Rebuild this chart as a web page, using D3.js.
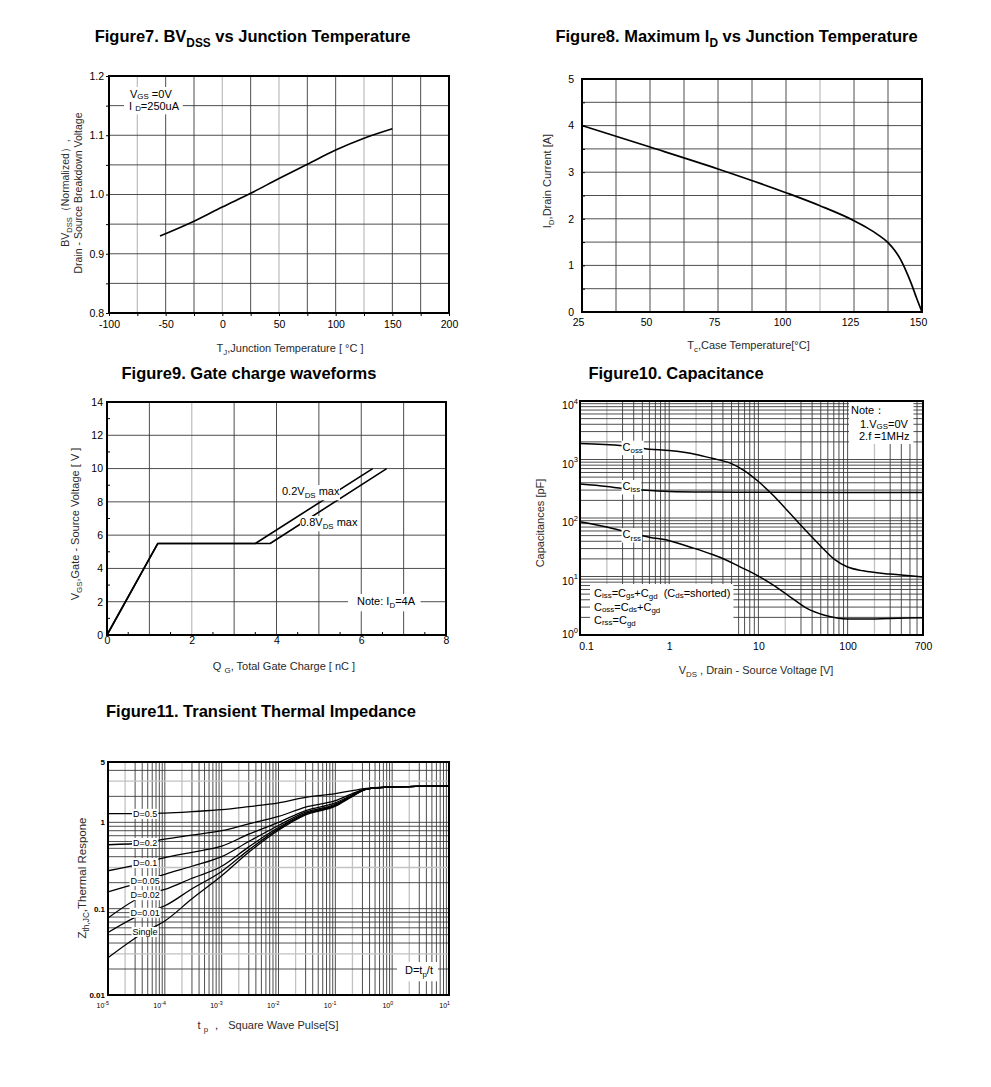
<!DOCTYPE html>
<html>
<head>
<meta charset="utf-8">
<script src="https://cdn.jsdelivr.net/npm/d3@7/dist/d3.min.js"></script>
<style>
html,body{margin:0;padding:0;background:#fff;}
svg{display:block;}
</style>
</head>
<body>
<svg id="chart" width="991" height="1087"></svg>
<script>
// ---------------- Figure 7 : BVdss vs Tj ----------------
const bvTemp = [-55, -25, 0, 25, 50, 75, 100, 125, 150];
const bvNorm = [0.930, 0.955, 0.979, 1.002, 1.027, 1.051, 1.075, 1.095, 1.111];
const bvXTicks = [-100, -50, 0, 50, 100, 150, 200];
const bvYTicks = [0.8, 0.9, 1.0, 1.1, 1.2];

// ---------------- Figure 8 : Id vs Tc ----------------
const idTemp = [25, 50, 75, 100, 112.5, 125, 130, 134, 137.5, 140, 142, 144, 146, 148, 150];
const idCurrent = [4.0, 3.54, 3.07, 2.56, 2.28, 1.96, 1.80, 1.65, 1.49, 1.32, 1.14, 0.90, 0.62, 0.30, 0];
const idXTicks = [25, 50, 75, 100, 125, 150];
const idYTicks = [0, 1, 2, 3, 4, 5];

// ---------------- Figure 9 : gate charge ----------------
const qg02 = [0, 1.2, 3.5, 6.27];
const vgs02 = [0, 5.5, 5.5, 10];
const qg08 = [0, 1.2, 3.85, 6.6];
const vgs08 = [0, 5.5, 5.5, 10];
const qgXTicks = [0, 2, 4, 6, 8];
const qgYTicks = [0, 2, 4, 6, 8, 10, 12, 14];

// ---------------- Figure 10 : capacitance ----------------
const cossVds = [0.1, 0.3, 0.6, 1, 2, 3, 5, 7, 10, 15, 22, 35, 50, 70, 100, 150, 300, 700];
const cossPf  = [1870, 1720, 1500, 1420, 1220, 1050, 850, 640, 420, 235, 125, 58, 33, 20, 14.5, 12.5, 11, 9.8];
const cissVds = [0.1, 0.2, 0.3, 0.5, 1, 3, 10, 100, 700];
const cissPf  = [380, 345, 320, 300, 283, 277, 275, 272, 272];
const crssVds = [0.1, 0.2, 0.3, 0.6, 1, 1.7, 3, 4.4, 6, 8.8, 14.7, 22.6, 35, 54, 76, 100, 150, 300, 700];
const crssPf  = [86, 70, 60, 47, 41, 32, 24, 19, 15, 11.3, 7.1, 4.5, 2.85, 2.2, 1.95, 1.88, 1.88, 1.92, 1.97];
const capXTicks = [0.1, 1, 10, 100, 700];
const capYTicks = [1, 10, 100, 1000, 10000];
const capYExp = ['0', '1', '2', '3', '4'];
const capLabelX = 0.3;
const capLabelY = [1656, 352, 53];
const capLabelSub = ['oss', 'iss', 'rss'];

// ---------------- Figure 11 : transient thermal impedance ----------------
const zthTp = [1e-5, 4.5e-5, 1e-4, 3e-4, 1e-3, 3e-3, 1e-2, 3e-2, 1e-1, 2e-1, 3.5e-1, 1, 10];
const zthD05  = [1.26, 1.26, 1.28, 1.33, 1.40, 1.52, 1.68, 1.95, 2.15, 2.33, 2.47, 2.57, 2.65];
const zthD02  = [0.55, 0.58, 0.64, 0.71, 0.80, 0.96, 1.17, 1.50, 1.78, 2.15, 2.44, 2.57, 2.65];
const zthD01  = [0.275, 0.34, 0.39, 0.45, 0.53, 0.73, 1.00, 1.37, 1.68, 2.08, 2.43, 2.57, 2.65];
const zthD005 = [0.157, 0.21, 0.25, 0.31, 0.40, 0.60, 0.92, 1.31, 1.62, 2.05, 2.42, 2.57, 2.65];
const zthD002 = [0.078, 0.144, 0.167, 0.225, 0.31, 0.52, 0.87, 1.27, 1.58, 2.03, 2.42, 2.57, 2.65];
const zthD001 = [0.053, 0.090, 0.108, 0.17, 0.27, 0.48, 0.84, 1.25, 1.56, 2.02, 2.41, 2.57, 2.65];
const zthSingle = [0.027, 0.054, 0.072, 0.13, 0.24, 0.45, 0.81, 1.22, 1.54, 2.00, 2.41, 2.57, 2.65];
const zthNames = ['D=0.5', 'D=0.2', 'D=0.1', 'D=0.05', 'D=0.02', 'D=0.01', 'Single'];
const zthXTicks = [1e-5, 1e-4, 1e-3, 1e-2, 1e-1, 1, 10];
const zthXExp = ['-5', '-4', '-3', '-2', '-1', '0', '1'];
const zthYTicks = [0.01, 0.1, 1, 5];
const zthYLabels = ['0.01', '0.1', '1', '5'];

// =====================================================================
const svg = d3.select('#chart');
const FONT = '"Liberation Sans", Arial, Helvetica, sans-serif';
const DARK = '#3a3a3a', LIGHT = '#c2c2c2';
const near = (arr, d) => arr.some(v => Math.abs(v - d) < 1e-9 * Math.max(1, Math.abs(v)));

function rich(parent, x, y, parts, o = {}) {
  const size = o.size || 11;
  const t = parent.append('text')
    .attr('font-family', FONT).attr('font-size', size)
    .attr('font-weight', o.weight || 'normal')
    .attr('fill', o.fill || '#000')
    .attr('text-anchor', o.anchor || 'start')
    .style('white-space', 'pre');
  if (o.rotate) t.attr('transform', `translate(${x},${y}) rotate(-90)`);
  else t.attr('x', x).attr('y', y);
  let cur = 0;
  parts.forEach(p => {
    const s = typeof p === 'string' ? p : p[0];
    const k = typeof p === 'string' ? 'n' : p[1];
    const fs = k === 'n' ? size : size * (o.small || 0.72);
    let off = 0;
    if (k === 'sub') off = size * (o.subOff || 0.3);
    else if (k === 'lo') off = size * 0.12;
    else if (k === 'sup') off = -size * (o.supOff || 0.45);
    t.append('tspan').attr('font-size', fs).attr('dy', off - cur).text(s);
    cur = off;
  });
  return t;
}

function backBox(parent, sels, pad) {
  const p = typeof pad === 'number' ? [pad, pad, pad, pad] : pad; // t r b l
  let x0 = Infinity, y0 = Infinity, x1 = -Infinity, y1 = -Infinity;
  sels.forEach(s => {
    const b = s.node().getBBox();
    x0 = Math.min(x0, b.x); y0 = Math.min(y0, b.y);
    x1 = Math.max(x1, b.x + b.width); y1 = Math.max(y1, b.y + b.height);
  });
  parent.insert('rect', () => sels[0].node())
    .attr('x', x0 - p[3]).attr('y', y0 - p[0])
    .attr('width', x1 - x0 + p[1] + p[3]).attr('height', y1 - y0 + p[0] + p[2])
    .attr('fill', '#fff');
}

function grid(g, x, y, xs, ys, lightX = () => false, lightY = () => false) {
  const [xl, xr] = x.range(), [yb, yt] = y.range();
  g.append('g').selectAll('line').data(xs).join('line')
    .attr('x1', d => x(d)).attr('x2', d => x(d)).attr('y1', yt).attr('y2', yb)
    .attr('stroke', d => lightX(d) ? LIGHT : DARK).attr('stroke-width', d => lightX(d) ? 1.3 : 0.9);
  g.append('g').selectAll('line').data(ys).join('line')
    .attr('y1', d => y(d)).attr('y2', d => y(d)).attr('x1', xl).attr('x2', xr)
    .attr('stroke', d => lightY(d) ? LIGHT : DARK).attr('stroke-width', d => lightY(d) ? 1.3 : 0.9);
}
function frame(g, x, y) {
  const [xl, xr] = x.range(), [yb, yt] = y.range();
  g.append('rect').attr('x', xl).attr('y', yt).attr('width', xr - xl).attr('height', yb - yt)
    .attr('fill', 'none').attr('stroke', '#000').attr('stroke-width', 2);
}
function styleAxis(a, size) {
  a.select('.domain').remove();
  a.selectAll('text').attr('font-family', FONT).attr('font-size', size).attr('fill', '#000');
  a.selectAll('line').attr('stroke', '#000').attr('stroke-width', 1);
}
function curve(g, x, y, xs, ys, w, cv) {
  g.append('path').datum(d3.zip(xs, ys))
    .attr('fill', 'none').attr('stroke', '#000').attr('stroke-width', w)
    .attr('stroke-linejoin', 'round')
    .attr('d', d3.line().x(d => x(d[0])).y(d => y(d[1])).curve(cv || d3.curveMonotoneX));
}
function logGrid(e0, e1, maxV) {
  const out = [];
  for (let e = e0; e <= e1; e++) for (let k = 1; k <= 9; k++) {
    const v = k * Math.pow(10, e);
    if (v <= maxV * 1.0000001) out.push({ v, k });
  }
  return out;
}

// ---------------- Titles ----------------
const TT = { size: 16.5, weight: 'bold', anchor: 'middle' };
rich(svg, 252.5, 42, ['Figure7. BV', ['DSS', 'sub'], ' vs Junction Temperature'], TT);
rich(svg, 736.5, 42, ['Figure8. Maximum I', ['D', 'sub'], ' vs Junction Temperature'], TT);
rich(svg, 249, 379, ['Figure9. Gate charge waveforms'], TT);
rich(svg, 676, 379, ['Figure10. Capacitance'], TT);
rich(svg, 261, 717, ['Figure11. Transient Thermal Impedance'], TT);

const AX = '#2a2a2a';

// ================= Figure 7 =================
{
  const g = svg.append('g');
  const x = d3.scaleLinear().domain([-100, 200]).range([109, 449]);
  const y = d3.scaleLinear().domain([0.8, 1.2]).range([313, 76]);
  const gx = d3.range(-75, 200, 25);
  const gy = d3.range(1, 8).map(i => 0.8 + i * 0.05);
  grid(g, x, y, gx, gy, d => [-75, 0, 50, 125].includes(d));
  curve(g, x, y, bvTemp, bvNorm, 1.6);
  const t1 = rich(g, 130, 98, ['V', ['GS', 'lo'], ' =0V'], { size: 11 });
  const t2 = rich(g, 129, 110, ['I ', ['D', 'lo'], '=250uA'], { size: 11 });
  backBox(g, [t1, t2], [1, 3, 1, 5]);
  frame(g, x, y);
  const ax = g.append('g').attr('transform', `translate(0,${y.range()[0]})`)
    .call(d3.axisBottom(x).tickValues(d3.range(-100, 201, 25)).tickSize(3).tickPadding(5)
      .tickFormat(d => bvXTicks.includes(d) ? String(d) : ''));
  styleAxis(ax, 10.5);
  const ay = g.append('g').attr('transform', `translate(${x.range()[0]},0)`)
    .call(d3.axisLeft(y).tickValues(d3.range(0, 9).map(i => 0.8 + i * 0.05)).tickSize(3).tickPadding(2)
      .tickFormat(d => near(bvYTicks, d) ? d.toFixed(1) : ''));
  styleAxis(ay, 10.5);
  rich(g, 69, 193, ['BV', ['DSS', 'sub'], '（Normalized）,'], { size: 10.5, anchor: 'middle', rotate: true, fill: AX });
  rich(g, 82, 193, ['Drain - Source Breakdown Voltage'], { size: 10.5, anchor: 'middle', rotate: true, fill: AX });
  rich(g, 290, 352, ['T', ['J', 'sub'], ',Junction Temperature [ °C ]'], { size: 11, anchor: 'middle', fill: AX });
}

// ================= Figure 8 =================
{
  const g = svg.append('g');
  const x = d3.scaleLinear().domain([25, 150]).range([582, 922]);
  const y = d3.scaleLinear().domain([0, 5]).range([312, 79]);
  const gx = d3.range(1, 10).map(i => 25 + i * 12.5);
  const gy = d3.range(1, 10).map(i => i * 0.5);
  grid(g, x, y, gx, gy, d => d === 112.5);
  curve(g, x, y, idTemp, idCurrent, 1.7);
  frame(g, x, y);
  const ax = g.append('g').attr('transform', `translate(0,${y.range()[0]})`)
    .call(d3.axisBottom(x).tickValues(idXTicks).tickSize(0).tickPadding(7)
      .tickFormat(d => String(d)));
  styleAxis(ax, 10.5);
  ax.selectAll('text').attr('dx', -4);
  const ay = g.append('g').attr('transform', `translate(${x.range()[0]},0)`)
    .call(d3.axisLeft(y).tickValues(d3.range(0, 11).map(i => i * 0.5)).tickSize(-3).tickPadding(8)
      .tickFormat(d => idYTicks.includes(d) ? String(d) : ''));
  styleAxis(ay, 10.5);
  rich(g, 551, 181, ['I', ['D', 'sub'], ',Drain Current [A]'], { size: 11, anchor: 'middle', rotate: true, fill: AX });
  rich(g, 748.5, 349, ['T', ['c', 'sub'], ',Case Temperature[°C]'], { size: 11, anchor: 'middle', fill: AX });
}

// ================= Figure 9 =================
{
  const g = svg.append('g');
  const x = d3.scaleLinear().domain([0, 8]).range([107, 446]);
  const y = d3.scaleLinear().domain([0, 14]).range([635, 402]);
  grid(g, x, y, d3.range(1, 8), d3.range(2, 14, 2), d => d === 2);
  curve(g, x, y, qg02, vgs02, 1.6, d3.curveLinear);
  curve(g, x, y, qg08, vgs08, 1.6, d3.curveLinear);
  const l1 = rich(g, 282, 495, ['0.2V', ['DS', 'sub'], ' max'], { size: 11 });
  backBox(g, [l1], 0);
  const l2 = rich(g, 300, 526, ['0.8V', ['DS', 'sub'], ' max'], { size: 11 });
  backBox(g, [l2], 0);
  const l3 = rich(g, 357, 605, ['Note: I', ['D', 'sub'], '=4A'], { size: 11 });
  backBox(g, [l3], [1, 5, 1, 9]);
  frame(g, x, y);
  g.append('g').selectAll('line').data(d3.range(1, 14, 2)).join('line')
    .attr('x1', x(0)).attr('x2', x(0) + 3).attr('y1', d => y(d)).attr('y2', d => y(d)).attr('stroke', '#000');
  g.append('g').selectAll('line').data(d3.range(0.5, 8, 1)).join('line')
    .attr('x1', d => x(d)).attr('x2', d => x(d)).attr('y1', y(0)).attr('y2', y(0) - 3).attr('stroke', '#000');
  const ax = g.append('g').attr('transform', `translate(0,${y.range()[0]})`)
    .call(d3.axisBottom(x).tickValues(qgXTicks).tickSize(0).tickPadding(2).tickFormat(d => String(d)));
  styleAxis(ax, 10.5);
  const ay = g.append('g').attr('transform', `translate(${x.range()[0]},0)`)
    .call(d3.axisLeft(y).tickValues(qgYTicks).tickSize(0).tickPadding(4).tickFormat(d => String(d)));
  styleAxis(ay, 10.5);
  rich(g, 79, 524, ['V', ['GS', 'sub'], ',Gate - Source Voltage [ V ]'], { size: 11, anchor: 'middle', rotate: true, fill: AX });
  rich(g, 284, 670, ['Q ', ['G', 'sub'], ', Total Gate Charge [ nC ]'], { size: 11, anchor: 'middle', fill: AX });
}

// ================= Figure 10 =================
{
  const g = svg.append('g');
  const x = d3.scaleLog().domain([0.1, 700]).range([580, 923]);
  const y = d3.scaleLog().domain([1, 10000]).range([635, 401]);
  const gxo = logGrid(-1, 2, 700).filter(d => d.v > 0.1);
  const gyo = logGrid(0, 3, 10000).filter(d => d.v > 1);
  const lightX = new Set(gxo.filter(d => d.k === 2).map(d => d.v));
  grid(g, x, y, gxo.map(d => d.v), gyo.map(d => d.v), d => lightX.has(d));
  curve(g, x, y, cossVds, cossPf, 1.5);
  curve(g, x, y, cissVds, cissPf, 1.5);
  curve(g, x, y, crssVds, crssPf, 1.5);
  capLabelSub.forEach((s, i) => {
    const t = rich(g, x(capLabelX), y(capLabelY[i]) + 4, ['C', [s, 'sub']], { size: 11, subOff: 0.22 });
    backBox(g, [t], [0, 1, 0, 1]);
  });
  const n1 = rich(g, 851, 414, ['Note：'], { size: 11 });
  const n2 = rich(g, 860, 428, ['1.V', ['GS', 'lo'], '=0V'], { size: 11 });
  const n3 = rich(g, 859, 440, ['2.f =1MHz'], { size: 11 });
  backBox(g, [n1, n2, n3], [3, 4, 2, 2]);
  const f1 = rich(g, 594, 597, ['C', ['iss', 'lo'], '=C', ['gs', 'lo'], '+C', ['gd', 'sub'], '  (C', ['ds', 'lo'], '=shorted)'], { size: 11, subOff: 0.2 });
  const f2 = rich(g, 594, 611, ['C', ['oss', 'lo'], '=C', ['ds', 'lo'], '+C', ['gd', 'sub']], { size: 11, subOff: 0.2 });
  const f3 = rich(g, 594, 624, ['C', ['rss', 'lo'], '=C', ['gd', 'sub']], { size: 11, subOff: 0.2 });
  backBox(g, [f1, f2, f3], [3, 3, 10, 4]);
  frame(g, x, y);
  const ax = g.append('g').attr('transform', `translate(0,${y.range()[0]})`)
    .call(d3.axisBottom(x).tickValues(capXTicks).tickSize(0).tickPadding(8).tickFormat(d => String(d)));
  styleAxis(ax, 10.5);
  ax.selectAll('text').filter(d => d === 0.1).attr('dx', 6);
  capYTicks.forEach((v, i) => {
    rich(g, 578, y(v) + (i === 0 ? 3 : 8), ['10', [capYExp[i], 'sup']], { size: 10.5, anchor: 'end', small: 0.72, supOff: 0.5 });
  });
  rich(g, 544, 523, ['Capacitances [pF]'], { size: 11, anchor: 'middle', rotate: true, fill: AX });
  rich(g, 756, 674, ['V', ['DS', 'sub'], ' , Drain - Source Voltage [V]'], { size: 11, anchor: 'middle', fill: AX });
}

// ================= Figure 11 =================
{
  const g = svg.append('g');
  const x = d3.scaleLog().domain([1e-5, 10]).range([108, 449]);
  const y = d3.scaleLog().domain([0.01, 5]).range([995, 762]);
  const gxo = logGrid(-5, 0, 10).filter(d => d.v > 1e-5);
  const gyo = logGrid(-2, 0, 5).filter(d => d.v > 0.01 && d.v < 5);
  const lightX = new Set(gxo.filter(d => d.k === 2).map(d => d.v));
  const lightY = new Set(gyo.filter(d => d.k === 3).map(d => d.v));
  grid(g, x, y, gxo.map(d => d.v), gyo.map(d => d.v), d => lightX.has(d), d => lightY.has(d));
  const series = [zthD05, zthD02, zthD01, zthD005, zthD002, zthD001, zthSingle];
  series.forEach(s => curve(g, x, y, zthTp, s, 1.3));
  series.forEach((s, i) => {
    const t = rich(g, x(zthTp[1]), y(s[1]) + 3.2, [zthNames[i]], { size: 9, anchor: 'middle' });
    backBox(g, [t], [0, 1, 0, 1]);
  });
  const dn = rich(g, 405, 974, ['D=t', ['p', 'sub'], '/t'], { size: 11 });
  backBox(g, [dn], [2, 5, 2, 8]);
  frame(g, x, y);
  zthXTicks.forEach((v, i) => {
    rich(g, x(v) + 1, 1008, ['10', [zthXExp[i], 'sup']], { size: 7, anchor: 'end', small: 0.75, supOff: 0.5 });
  });
  zthYTicks.forEach((v, i) => {
    rich(g, 105, y(v) + 3, [zthYLabels[i]], { size: 8, anchor: 'end', weight: 'bold' });
  });
  rich(g, 86, 878, ['Z', ['th,JC', 'sub'], ',Thermal Respone'], { size: 11.5, anchor: 'middle', rotate: true, fill: AX });
  rich(g, 268, 1029, ['t ', ['p', 'sub'], ' ，  Square Wave Pulse[S]'], { size: 11, anchor: 'middle', fill: AX });
}
</script>
</body>
</html>
